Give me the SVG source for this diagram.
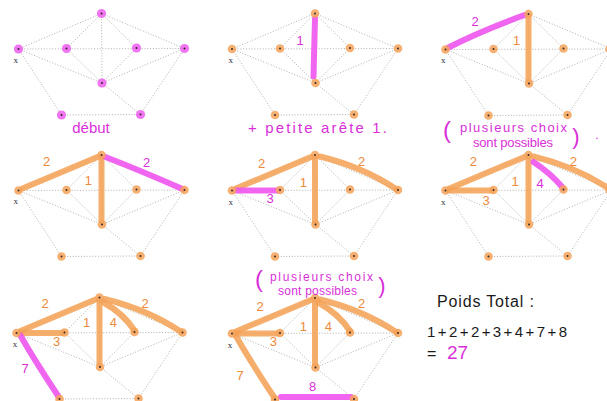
<svg xmlns="http://www.w3.org/2000/svg" xmlns:xlink="http://www.w3.org/1999/xlink" width="607" height="401" viewBox="0 0 607 401">
<style>
.dot{fill:none;stroke:#9c9c9c;stroke-width:0.8;stroke-dasharray:1 1.8}
.ho{fill:none;stroke:#f5a054;stroke-width:6;stroke-linecap:round;stroke-linejoin:round;stroke-opacity:0.85}
.hm{fill:none;stroke:#ee55ee;stroke-width:6;stroke-linecap:round;stroke-linejoin:round;stroke-opacity:0.9}
.w{font-family:"Liberation Sans",Arial,sans-serif;font-size:13px;text-anchor:middle;dominant-baseline:central}
.wo{fill:#ec8a3c}
.wm{fill:#d92fd9}
.x{font-family:"Liberation Serif",serif;font-size:9px;fill:#2b3140;text-anchor:middle;dominant-baseline:central}
.hand{font-family:"Liberation Sans",Arial,sans-serif}
</style>
<defs>
<path id="graph" class="dot" d="M0,0 L-83,35.5 M0,0 L-35,35 M0,0 L0.5,69.5 M0,0 L35,34.5 M0,0 L83,35 M-83,35.5 L83,35 M-83,35.5 L0.5,69.5 M-35,35 L0.5,69.5 M35,34.5 L0.5,69.5 M83,35 L0.5,69.5 M-83,35.5 L-40,101.5 M-40,101.5 L39,101 M39,101 L83,35 M0.5,69.5 L39,101"/>
<g id="nodeO"><circle r="4.3" fill="#f5a259" fill-opacity="0.85"/><circle r="1" fill="#3b2b20"/></g>
<g id="nodeM"><circle r="4.6" fill="#ee66ee" fill-opacity="0.9"/><circle r="1" fill="#3b2030"/></g>
</defs>
<rect width="607" height="401" fill="#ffffff"/>

<g id="connectors">
  <g transform="translate(101.5,13.5)"><use xlink:href="#graph"/></g>
  <g transform="translate(315,13.5)"><use xlink:href="#graph"/>
    <path class="hm" d="M0,5 L-1.5,63"/></g>
  <g transform="translate(528.5,14)"><use xlink:href="#graph"/>
    <path class="ho" d="M0,4 L0,66"/>
    <path class="hm" d="M-80,33.5 Q-50,18 -4,1"/></g>
  <g transform="translate(101.5,155)"><use xlink:href="#graph"/>
    <path class="ho" d="M-79,33.5 L-4,2"/>
    <path class="ho" d="M0,4 L0,66"/>
    <path class="hm" d="M4,2 Q40,16 81,34"/></g>
  <g transform="translate(315,155)"><use xlink:href="#graph"/>
    <path class="ho" d="M-79,33.5 L-4,2"/>
    <path class="ho" d="M0,4 L0,66"/>
    <path class="ho" d="M5,1.5 Q48,12 81,34"/>
    <path class="hm" d="M-79,35.5 L-37,35.5"/></g>
  <g transform="translate(528.5,155)"><use xlink:href="#graph"/>
    <path class="ho" d="M-79,33.5 L-4,2"/>
    <path class="ho" d="M0,4 L0,66"/>
    <path class="ho" d="M5,1.5 Q48,12 81,34"/>
    <path class="ho" d="M-79,35.5 L-37,35.5"/>
    <path class="hm" d="M5,7 Q22,18 34.5,33"/></g>
  <g transform="translate(99.5,297.5)"><use xlink:href="#graph"/>
    <path class="ho" d="M-79,33.5 L-4,2"/>
    <path class="ho" d="M0,4 L0,66"/>
    <path class="ho" d="M5,1.5 Q48,12 81,34"/>
    <path class="ho" d="M-79,35.5 L-37,35.5"/>
    <path class="ho" d="M4,5 Q24,16 35,33"/>
    <path class="hm" d="M-79,38 Q-68,58 -41,99"/></g>
  <g transform="translate(315,298)"><use xlink:href="#graph"/>
    <path class="ho" d="M-79,33.5 L-4,2"/>
    <path class="ho" d="M0,4 L0,66"/>
    <path class="ho" d="M5,1.5 Q48,12 81,34"/>
    <path class="ho" d="M-79,35.5 L-37,35.5"/>
    <path class="ho" d="M4,5 Q24,16 35,33"/>
    <path class="ho" d="M-79,38 Q-68,58 -41,99"/>
    <path class="hm" d="M-34,99 L36,99"/></g>
</g>

<g id="nodes">
  <g id="panel1" transform="translate(101.5,13.5)">
    <g id="p1-T"><use xlink:href="#nodeM"/></g>
    <g id="p1-L" transform="translate(-83,35.5)"><use xlink:href="#nodeM"/></g>
    <g id="p1-IL" transform="translate(-35,35)"><use xlink:href="#nodeM"/></g>
    <g id="p1-IR" transform="translate(35,34.5)"><use xlink:href="#nodeM"/></g>
    <g id="p1-R" transform="translate(83,35)"><use xlink:href="#nodeM"/></g>
    <g id="p1-C" transform="translate(0.5,69.5)"><use xlink:href="#nodeM"/></g>
    <g id="p1-BL" transform="translate(-40,101.5)"><use xlink:href="#nodeM"/></g>
    <g id="p1-BR" transform="translate(39,101)"><use xlink:href="#nodeM"/></g>
  </g>
  <g id="panel2" transform="translate(315,13.5)">
    <g id="p2-T"><use xlink:href="#nodeO"/></g>
    <g id="p2-L" transform="translate(-83,35.5)"><use xlink:href="#nodeO"/></g>
    <g id="p2-IL" transform="translate(-35,35)"><use xlink:href="#nodeO"/></g>
    <g id="p2-IR" transform="translate(35,34.5)"><use xlink:href="#nodeO"/></g>
    <g id="p2-R" transform="translate(83,35)"><use xlink:href="#nodeO"/></g>
    <g id="p2-C" transform="translate(0.5,69.5)"><use xlink:href="#nodeO"/></g>
    <g id="p2-BL" transform="translate(-40,101.5)"><use xlink:href="#nodeO"/></g>
    <g id="p2-BR" transform="translate(39,101)"><use xlink:href="#nodeO"/></g>
  </g>
  <g id="panel3" transform="translate(528.5,14)">
    <g id="p3-T"><use xlink:href="#nodeO"/></g>
    <g id="p3-L" transform="translate(-83,35.5)"><use xlink:href="#nodeO"/></g>
    <g id="p3-IL" transform="translate(-35,35)"><use xlink:href="#nodeO"/></g>
    <g id="p3-IR" transform="translate(35,34.5)"><use xlink:href="#nodeO"/></g>
    <g id="p3-R" transform="translate(81,35)"><use xlink:href="#nodeO"/></g>
    <g id="p3-C" transform="translate(0.5,69.5)"><use xlink:href="#nodeO"/></g>
    <g id="p3-BL" transform="translate(-40,101.5)"><use xlink:href="#nodeO"/></g>
    <g id="p3-BR" transform="translate(39,101)"><use xlink:href="#nodeO"/></g>
  </g>
  <g id="panel4" transform="translate(101.5,155)">
    <g id="p4-T"><use xlink:href="#nodeO"/></g>
    <g id="p4-L" transform="translate(-83,35.5)"><use xlink:href="#nodeO"/></g>
    <g id="p4-IL" transform="translate(-35,35)"><use xlink:href="#nodeO"/></g>
    <g id="p4-IR" transform="translate(35,34.5)"><use xlink:href="#nodeO"/></g>
    <g id="p4-R" transform="translate(83,35)"><use xlink:href="#nodeO"/></g>
    <g id="p4-C" transform="translate(0.5,69.5)"><use xlink:href="#nodeO"/></g>
    <g id="p4-BL" transform="translate(-40,101.5)"><use xlink:href="#nodeO"/></g>
    <g id="p4-BR" transform="translate(39,101)"><use xlink:href="#nodeO"/></g>
  </g>
  <g id="panel5" transform="translate(315,155)">
    <g id="p5-T"><use xlink:href="#nodeO"/></g>
    <g id="p5-L" transform="translate(-83,35.5)"><use xlink:href="#nodeO"/></g>
    <g id="p5-IL" transform="translate(-35,35)"><use xlink:href="#nodeO"/></g>
    <g id="p5-IR" transform="translate(35,34.5)"><use xlink:href="#nodeO"/></g>
    <g id="p5-R" transform="translate(83,35)"><use xlink:href="#nodeO"/></g>
    <g id="p5-C" transform="translate(0.5,69.5)"><use xlink:href="#nodeO"/></g>
    <g id="p5-BL" transform="translate(-40,101.5)"><use xlink:href="#nodeO"/></g>
    <g id="p5-BR" transform="translate(39,101)"><use xlink:href="#nodeO"/></g>
  </g>
  <g id="panel6" transform="translate(528.5,155)">
    <g id="p6-T"><use xlink:href="#nodeO"/></g>
    <g id="p6-L" transform="translate(-83,35.5)"><use xlink:href="#nodeO"/></g>
    <g id="p6-IL" transform="translate(-35,35)"><use xlink:href="#nodeO"/></g>
    <g id="p6-IR" transform="translate(35,34.5)"><use xlink:href="#nodeO"/></g>
    <g id="p6-R" transform="translate(81,35)"><use xlink:href="#nodeO"/></g>
    <g id="p6-C" transform="translate(0.5,69.5)"><use xlink:href="#nodeO"/></g>
    <g id="p6-BL" transform="translate(-40,101.5)"><use xlink:href="#nodeO"/></g>
    <g id="p6-BR" transform="translate(39,101)"><use xlink:href="#nodeO"/></g>
  </g>
  <g id="panel7" transform="translate(99.5,297.5)">
    <g id="p7-T"><use xlink:href="#nodeO"/></g>
    <g id="p7-L" transform="translate(-83,35.5)"><use xlink:href="#nodeO"/></g>
    <g id="p7-IL" transform="translate(-35,35)"><use xlink:href="#nodeO"/></g>
    <g id="p7-IR" transform="translate(35,34.5)"><use xlink:href="#nodeO"/></g>
    <g id="p7-R" transform="translate(83,35)"><use xlink:href="#nodeO"/></g>
    <g id="p7-C" transform="translate(0.5,69.5)"><use xlink:href="#nodeO"/></g>
    <g id="p7-BL" transform="translate(-40,101.5)"><use xlink:href="#nodeO"/></g>
    <g id="p7-BR" transform="translate(39,101)"><use xlink:href="#nodeO"/></g>
  </g>
  <g id="panel8" transform="translate(315,298)">
    <g id="p8-T"><use xlink:href="#nodeO"/></g>
    <g id="p8-L" transform="translate(-83,35.5)"><use xlink:href="#nodeO"/></g>
    <g id="p8-IL" transform="translate(-35,35)"><use xlink:href="#nodeO"/></g>
    <g id="p8-IR" transform="translate(35,34.5)"><use xlink:href="#nodeO"/></g>
    <g id="p8-R" transform="translate(83,35)"><use xlink:href="#nodeO"/></g>
    <g id="p8-C" transform="translate(0.5,69.5)"><use xlink:href="#nodeO"/></g>
    <g id="p8-BL" transform="translate(-40,101.5)"><use xlink:href="#nodeO"/></g>
    <g id="p8-BR" transform="translate(39,101)"><use xlink:href="#nodeO"/></g>
  </g>
</g>

<g id="x-labels">
  <text class="x" x="15.7" y="60">x</text>
  <text class="x" x="230.7" y="60">x</text>
  <text class="x" x="443.3" y="60">x</text>
  <text class="x" x="15.7" y="201">x</text>
  <text class="x" x="230.7" y="201.5">x</text>
  <text class="x" x="443.3" y="201.5">x</text>
  <text class="x" x="15" y="343.5">x</text>
  <text class="x" x="230" y="345">x</text>
</g>

<g id="weights">
  <text class="w wm" x="300" y="40">1</text>
  <text class="w wm" x="475" y="21.7">2</text>
  <text class="w wo" x="516.7" y="40.7">1</text>
  <text class="w wo" x="46.7" y="161.7">2</text>
  <text class="w wo" x="88.3" y="180.7">1</text>
  <text class="w wm" x="146.7" y="162.7">2</text>
  <text class="w wo" x="261.7" y="163.3">2</text>
  <text class="w wo" x="303.3" y="182.3">1</text>
  <text class="w wo" x="361.7" y="161.7">2</text>
  <text class="w wm" x="270" y="198.3">3</text>
  <text class="w wo" x="473.3" y="161.7">2</text>
  <text class="w wo" x="486" y="200">3</text>
  <text class="w wo" x="515" y="181.7">1</text>
  <text class="w wo" x="573.3" y="161.7">2</text>
  <text class="w wm" x="540" y="183.3">4</text>
  <text class="w wo" x="45" y="303.3">2</text>
  <text class="w wo" x="56.7" y="341.7">3</text>
  <text class="w wo" x="86.7" y="322.7">1</text>
  <text class="w wo" x="113.3" y="322.7">4</text>
  <text class="w wo" x="145" y="303.3">2</text>
  <text class="w wm" x="25" y="368.3">7</text>
  <text class="w wo" x="260" y="306.7">2</text>
  <text class="w wo" x="303.3" y="326.7">1</text>
  <text class="w wo" x="328.3" y="326.7">4</text>
  <text class="w wo" x="361.7" y="303.3">2</text>
  <text class="w wo" x="273.3" y="341.7">3</text>
  <text class="w wo" x="240" y="375">7</text>
  <text class="w wm" x="312.7" y="386">8</text>
</g>

<g id="captions" class="hand" fill="#d92fd9">
  <text x="91" y="133" font-size="15" text-anchor="middle">début</text>
  <text x="248" y="133" font-size="15" textLength="139" lengthAdjust="spacing">+ petite arête 1.</text>
  <text x="447" y="138" font-size="24" text-anchor="middle">(</text>
  <text x="460" y="132" font-size="13" textLength="107" lengthAdjust="spacing">plusieurs choix</text>
  <text x="473" y="147" font-size="13" textLength="80" lengthAdjust="spacing">sont possibles</text>
  <text x="576" y="144" font-size="22" text-anchor="middle">)</text>
  <text x="597" y="139" font-size="12" text-anchor="middle">.</text>
  <text x="259" y="287" font-size="24" text-anchor="middle">(</text>
  <text x="270" y="281" font-size="12" textLength="103" lengthAdjust="spacing">plusieurs choix</text>
  <text x="278" y="294.5" font-size="12" textLength="79" lengthAdjust="spacing">sont possibles</text>
  <text x="382" y="293" font-size="22" text-anchor="middle">)</text>
</g>

<g id="total" class="hand">
  <text x="437" y="307" font-size="16" fill="#1a1a1a" textLength="97" lengthAdjust="spacing">Poids Total :</text>
  <text x="427" y="337" font-size="15" fill="#1a1a1a" textLength="140" lengthAdjust="spacing">1+2+2+3+4+7+8</text>
  <text x="427" y="359" font-size="16" fill="#1a1a1a">=</text>
  <text x="447" y="359" font-size="19" fill="#d92fd9">27</text>
</g>
</svg>
